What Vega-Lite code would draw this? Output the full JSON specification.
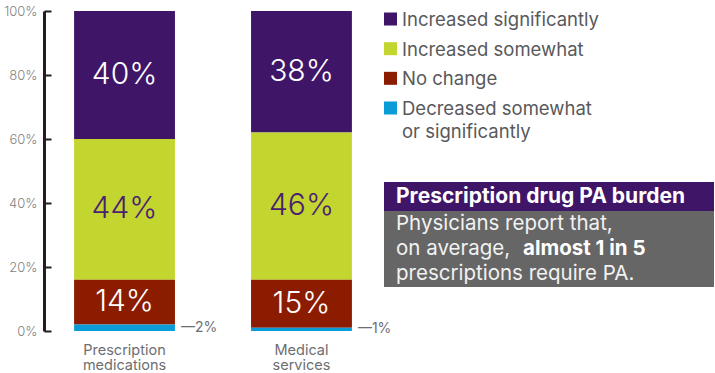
{
  "$schema": "https://vega.github.io/schema/vega-lite/v6.json",
  "padding": {"left": 3, "top": 5, "right": 0, "bottom": 0},
  "background": "white",
  "datasets": {
    "responses": [
      {"item": "Prescription medications", "response": "Increased significantly", "level": 4, "share": 0.40},
      {"item": "Prescription medications", "response": "Increased somewhat", "level": 3, "share": 0.44},
      {"item": "Prescription medications", "response": "No change", "level": 2, "share": 0.14},
      {"item": "Prescription medications", "response": "Decreased somewhat or significantly", "level": 1, "share": 0.02},
      {"item": "Medical services", "response": "Increased significantly", "level": 4, "share": 0.38},
      {"item": "Medical services", "response": "Increased somewhat", "level": 3, "share": 0.46},
      {"item": "Medical services", "response": "No change", "level": 2, "share": 0.15},
      {"item": "Medical services", "response": "Decreased somewhat or significantly", "level": 1, "share": 0.01}
    ],
    "legend": [
      {"response": "Increased significantly", "label": "Increased significantly"},
      {"response": "Increased somewhat", "label": "Increased somewhat"},
      {"response": "No change", "label": "No change"},
      {"response": "Decreased somewhat or significantly", "label": "Decreased somewhat\nor significantly"}
    ],
    "heading": [{"text": "Prescription drug PA burden"}],
    "note": [
      {"line": 1, "text": "Physicians report that,"},
      {"line": 2, "text": "on average,"},
      {"line": 3, "text": "prescriptions require PA."}
    ],
    "noteBold": [{"line": 2, "text": "almost 1 in 5"}]
  },
  "bounds": "flush",
  "spacing": 2,
  "hconcat": [
    {
      "width": 338,
      "height": 320,
      "data": {"name": "responses"},
      "transform": [
        {"stack": "share", "groupby": ["item"], "sort": [{"field": "level", "order": "ascending"}], "as": ["lo", "hi"]},
        {"calculate": "(datum.lo + datum.hi) / 2", "as": "mid"}
      ],
      "encoding": {
        "x": {
          "field": "item",
          "type": "nominal",
          "sort": ["Prescription medications", "Medical services"],
          "scale": {"paddingInner": 0.43, "paddingOuter": 0.17},
          "axis": {
            "title": null,
            "domain": false,
            "ticks": false,
            "labelAngle": 0,
            "labelFontSize": 14.5,
            "labelColor": "#6d6e71",
            "labelPadding": 12,
            "labelLineHeight": 15.5,
            "labelExpr": "split(datum.label, ' ')"
          }
        }
      },
      "layer": [
        {
          "mark": {"type": "bar"},
          "encoding": {
            "y": {
              "field": "lo",
              "type": "quantitative",
              "scale": {"domain": [0, 1]},
              "axis": {
                "title": null,
                "format": ".0%",
                "values": [0, 0.2, 0.4, 0.6, 0.8, 1],
                "grid": false,
                "domainColor": "#231f20",
                "domainWidth": 3,
                "tickColor": "#231f20",
                "tickWidth": 2,
                "tickSize": -7,
                "labelPadding": 14,
                "labelFontSize": 13,
                "labelFontWeight": 300,
                "labelColor": "#808285"
              }
            },
            "y2": {"field": "hi"},
            "color": {
              "field": "response",
              "type": "nominal",
              "scale": {
                "domain": ["Increased significantly", "Increased somewhat", "No change", "Decreased somewhat or significantly"],
                "range": ["#3f1568", "#c3d630", "#8b1c00", "#0b9bd7"]
              },
              "legend": null
            }
          }
        },
        {
          "transform": [{"filter": "datum.share >= 0.1"}],
          "mark": {"type": "text", "fontSize": 30, "fontWeight": 300, "baseline": "middle"},
          "encoding": {
            "y": {"field": "mid", "type": "quantitative"},
            "fill": {
              "field": "response",
              "type": "nominal",
              "scale": {
                "domain": ["Increased significantly", "Increased somewhat", "No change", "Decreased somewhat or significantly"],
                "range": ["#ffffff", "#4b1f6f", "#ffffff", "#ffffff"]
              },
              "legend": null
            },
            "text": {"field": "share", "format": ".0%"}
          }
        },
        {
          "transform": [
            {"filter": "datum.share < 0.1"},
            {"calculate": "'—' + format(datum.share, '.0%')", "as": "sideLabel"}
          ],
          "mark": {"type": "text", "align": "left", "baseline": "middle", "dx": 6, "fontSize": 14, "color": "#6d6e71"},
          "encoding": {
            "x": {"field": "item", "type": "nominal", "sort": ["Prescription medications", "Medical services"], "bandPosition": 1},
            "y": {"field": "mid", "type": "quantitative"},
            "text": {"field": "sideLabel"}
          }
        }
      ]
    },
    {
      "spacing": 66,
      "bounds": "flush",
      "vconcat": [
        {
          "width": 330,
          "height": 105,
          "data": {"name": "legend"},
          "encoding": {
            "y": {
              "field": "response",
              "type": "nominal",
              "sort": ["Increased significantly", "Increased somewhat", "No change", "Decreased somewhat or significantly"],
              "scale": {"type": "point", "padding": 0.27},
              "axis": null
            },
            "x": {"datum": 0, "type": "quantitative", "scale": {"domain": [0, 1]}, "axis": null}
          },
          "layer": [
            {
              "mark": {"type": "point", "shape": "square", "filled": true, "opacity": 1, "size": 169, "xOffset": 6.5},
              "encoding": {
                "color": {"field": "response", "type": "nominal", "legend": null}
              }
            },
            {
              "mark": {"type": "text", "align": "left", "baseline": "top", "dx": 18, "dy": -8, "fontSize": 18.5, "lineHeight": 23, "lineBreak": "\n", "color": "#58595b"},
              "encoding": {"text": {"field": "label"}}
            }
          ]
        },
        {
          "spacing": 0,
          "bounds": "flush",
          "vconcat": [
            {
              "width": 330,
              "height": 29,
              "view": {"fill": "#3f1568", "stroke": null},
              "data": {"name": "heading"},
              "mark": {"type": "text", "align": "left", "baseline": "middle", "dx": 12, "fontSize": 21, "fontWeight": "bold", "color": "#ffffff"},
              "encoding": {
                "x": {"datum": 0, "type": "quantitative", "scale": {"domain": [0, 1]}, "axis": null},
                "text": {"field": "text"}
              }
            },
            {
              "width": 330,
              "height": 76,
              "view": {"fill": "#666666", "stroke": null},
              "encoding": {
                "x": {"datum": 0, "type": "quantitative", "scale": {"domain": [0, 1]}, "axis": null},
                "y": {"field": "line", "type": "ordinal", "scale": {"type": "point", "padding": 0.55}, "axis": null}
              },
              "layer": [
                {
                  "data": {"name": "note"},
                  "mark": {"type": "text", "align": "left", "baseline": "middle", "dx": 12, "fontSize": 20.5, "color": "#f2f2f2"},
                  "encoding": {"text": {"field": "text"}}
                },
                {
                  "data": {"name": "noteBold"},
                  "mark": {"type": "text", "align": "left", "baseline": "middle", "dx": 139, "fontSize": 20.5, "fontWeight": "bold", "color": "#ffffff"},
                  "encoding": {"text": {"field": "text"}}
                }
              ]
            }
          ]
        }
      ]
    }
  ],
  "config": {
    "font": "Inter",
    "view": {"stroke": null},
    "axis": {"labelFont": "Inter"}
  }
}
